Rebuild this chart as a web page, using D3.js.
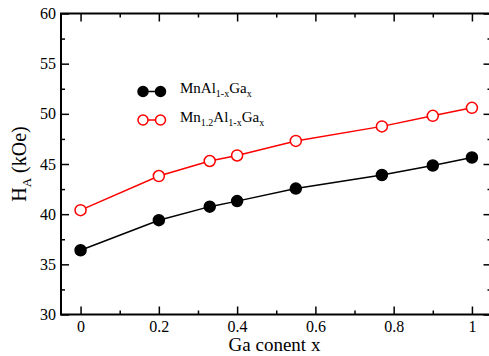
<!DOCTYPE html>
<html>
<head>
<meta charset="utf-8">
<script src="https://cdn.jsdelivr.net/npm/d3@7"></script>
<style>
  body { margin: 0; background: #fff; }
  svg { display: block; }
</style>
</head>
<body>
<div class="chart"></div>
<script>
// Data.
const gaContent = [0, 0.2, 0.33, 0.4, 0.55, 0.77, 0.9, 1];
const haMnAlGa = [36.4, 39.4, 40.75, 41.3, 42.55, 43.9, 44.85, 45.65];
const haMn12AlGa = [40.4, 43.8, 45.3, 45.85, 47.3, 48.75, 49.8, 50.6];
const xTicks = [0, 0.2, 0.4, 0.6, 0.8, 1];
const xMinorTicks = [0.1, 0.3, 0.5, 0.7, 0.9];
const yTicks = [30, 35, 40, 45, 50, 55, 60];
const yMinorTicks = [32.5, 37.5, 42.5, 47.5, 52.5, 57.5];

const serif = '"Liberation Serif", "Times New Roman", "DejaVu Serif", serif';

const series = [
  { name: 'MnAl', color: '#000', filled: true, values: haMnAlGa,
    label: [['MnAl', 0], ['1-x', 1], ['Ga', 0], ['x', 1]] },
  { name: 'Mn12', color: '#ff0000', filled: false, values: haMn12AlGa,
    label: [['Mn', 0], ['1.2', 1], ['Al', 0], ['1-x', 1], ['Ga', 0], ['x', 1]] }
];

// Dimensions.
const margin = { top: 13.5, right: -2.5, bottom: 41.5, left: 61 };
const W = 489, H = 356;
const width = W - margin.left - margin.right;
const height = H - margin.top - margin.bottom;

const xScale = d3.scaleLinear().domain([-0.05, 1.05]).range([0, width]);
const yScale = d3.scaleLinear().domain([30, 60]).range([height, 0]);

const svg = d3.select('.chart')
  .append('svg')
  .attr('width', W)
  .attr('height', H)
  .append('g')
  .attr('transform', `translate(${margin.left}, ${margin.top})`);

// Frame.
svg.append('rect')
  .attr('width', width)
  .attr('height', height)
  .style('fill', 'none')
  .style('stroke', '#000')
  .style('stroke-width', 2);

// Axes, ticks pointing inward.
const fmtX = d => d3.format('~g')(d);

svg.append('g').attr('class', 'x axis')
  .attr('transform', `translate(0, ${height})`)
  .call(d3.axisBottom(xScale).tickValues(xTicks).tickFormat(fmtX)
    .tickSizeInner(-8).tickSizeOuter(0).tickPadding(6));
svg.append('g').attr('class', 'x axis minor')
  .attr('transform', `translate(0, ${height})`)
  .call(d3.axisBottom(xScale).tickValues(xMinorTicks).tickFormat('')
    .tickSizeInner(-4).tickSizeOuter(0));
svg.append('g').attr('class', 'x axis top')
  .call(d3.axisTop(xScale).tickValues(xTicks).tickFormat('')
    .tickSizeInner(-8).tickSizeOuter(0));
svg.append('g').attr('class', 'x axis top minor')
  .call(d3.axisTop(xScale).tickValues(xMinorTicks).tickFormat('')
    .tickSizeInner(-4).tickSizeOuter(0));

svg.append('g').attr('class', 'y axis')
  .call(d3.axisLeft(yScale).tickValues(yTicks)
    .tickSizeInner(-8).tickSizeOuter(0).tickPadding(5));
svg.append('g').attr('class', 'y axis minor')
  .call(d3.axisLeft(yScale).tickValues(yMinorTicks).tickFormat('')
    .tickSizeInner(-4).tickSizeOuter(0));
svg.append('g').attr('class', 'y axis right')
  .attr('transform', `translate(${width}, 0)`)
  .call(d3.axisRight(yScale).tickValues(yTicks).tickFormat('')
    .tickSizeInner(-8).tickSizeOuter(0));
svg.append('g').attr('class', 'y axis right minor')
  .attr('transform', `translate(${width}, 0)`)
  .call(d3.axisRight(yScale).tickValues(yMinorTicks).tickFormat('')
    .tickSizeInner(-4).tickSizeOuter(0));

svg.selectAll('.axis path.domain').remove();
svg.selectAll('.axis line').style('stroke', '#000').style('stroke-width', 1.5);
svg.selectAll('.axis')
  .attr('font-family', serif)
  .attr('font-size', 16);
svg.selectAll('.axis text')
  .style('font-family', serif)
  .style('font-size', '16px')
  .style('fill', '#000');

// Axis titles.
svg.append('text')
  .attr('x', (W - margin.left) / 2 - 0.5)
  .attr('y', height + 36)
  .attr('text-anchor', 'middle')
  .style('font-family', serif)
  .style('font-size', '19px')
  .text('Ga conent x');

const yTitle = svg.append('text')
  .attr('transform', `translate(-35, ${height / 2}) rotate(-90)`)
  .attr('text-anchor', 'middle')
  .style('font-family', serif)
  .style('font-size', '20px');
yTitle.append('tspan').text('H');
yTitle.append('tspan').attr('dy', 5).style('font-size', '13px').text('A');
yTitle.append('tspan').attr('dy', -5).text(' (kOe)');

// Lines and markers.
const lineGen = d3.line()
  .x((d, i) => xScale(gaContent[i]))
  .y(d => yScale(d));

const chartGroup = svg.append('g').attr('class', 'line-chart');

chartGroup.selectAll('.line-series')
  .data(series)
  .enter()
  .append('path')
  .attr('class', 'line-series')
  .attr('d', d => lineGen(d.values))
  .style('fill', 'none')
  .style('stroke', d => d.color)
  .style('stroke-width', 1.5);

series.forEach(s => {
  chartGroup.append('g')
    .selectAll('circle')
    .data(s.values)
    .enter()
    .append('circle')
    .attr('cx', (d, i) => xScale(gaContent[i]))
    .attr('cy', d => yScale(d))
    .attr('r', 5.5)
    .style('fill', s.filled ? s.color : '#fff')
    .style('stroke', s.color)
    .style('stroke-width', 1.5);
});

// Legend.
const legend = svg.append('g')
  .attr('transform', `translate(${143 - margin.left}, ${91.5 - margin.top})`);

series.forEach((s, k) => {
  const g = legend.append('g').attr('transform', `translate(0, ${k * 28.5})`);
  g.append('line')
    .attr('x1', 0).attr('x2', 17.5)
    .style('stroke', s.color)
    .style('stroke-width', 1.5);
  g.selectAll('circle')
    .data([0, 17.5])
    .enter()
    .append('circle')
    .attr('cx', d => d)
    .attr('r', 5)
    .style('fill', s.filled ? s.color : '#fff')
    .style('stroke', s.color)
    .style('stroke-width', 1.5);
  const t = g.append('text')
    .attr('x', 37)
    .attr('y', 1.5)
    .style('font-family', serif)
    .style('font-size', '15px');
  let prev = 0;
  s.label.forEach(([str, sub]) => {
    t.append('tspan')
      .attr('dy', (sub - prev) * 4)
      .style('font-size', sub ? '10px' : '15px')
      .text(str);
    prev = sub;
  });
});
</script>
</body>
</html>
